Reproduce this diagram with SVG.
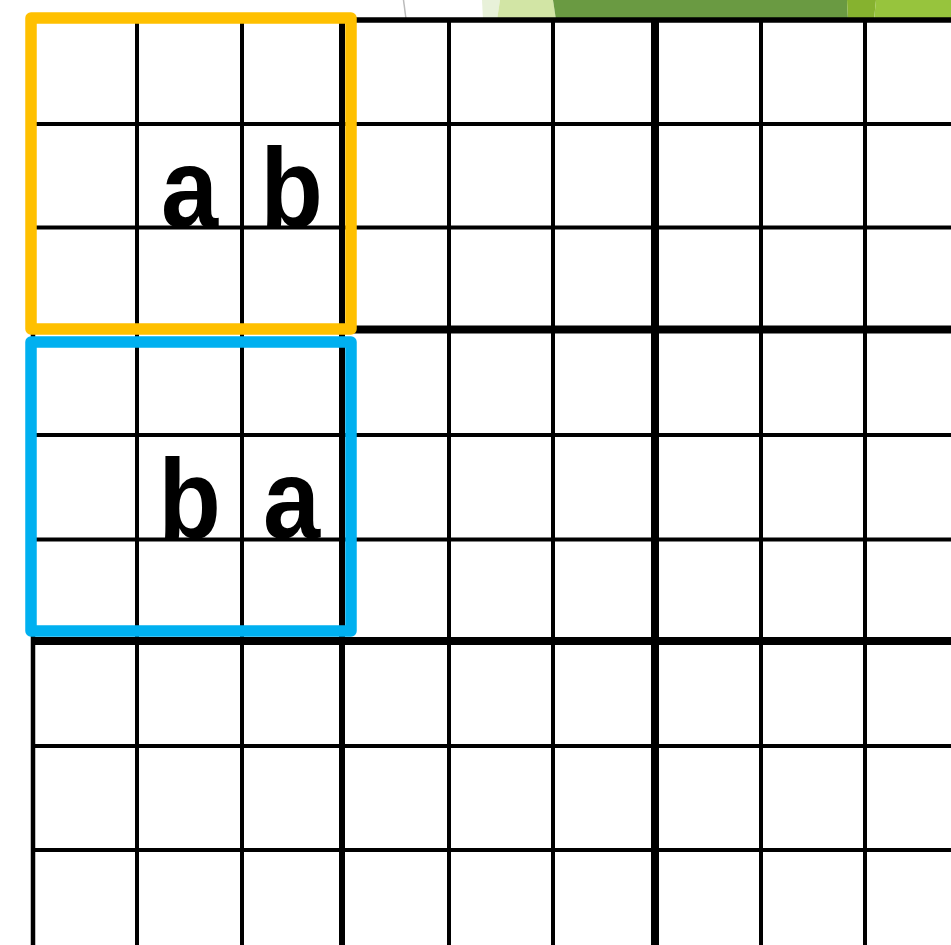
<svg xmlns="http://www.w3.org/2000/svg" width="951" height="945" viewBox="0 0 951 945">
<style>
.thin{stroke:#000;stroke-width:4;fill:none}
.thick{stroke:#000;stroke-width:8;fill:none}
.box{fill:none;stroke-width:11.5;stroke-linejoin:round}
.lbl{font-family:"Liberation Sans",Arial,sans-serif;font-weight:bold;font-size:114px;fill:#000;text-anchor:middle}
</style>
<rect width="951" height="945" fill="#fff"/>
<g id="decor">
<polygon points="482,0 500,0 497,20 483,20" fill="#E8F1D9"/>
<polygon points="500,0 553,0 556,20 497,20" fill="#D2E5A5"/>
<polygon points="553,0 847,0 848,20 556,20" fill="#6A9A42"/>
<polygon points="847,0 876,0 874,20 848,20" fill="#86B22F"/>
<polygon points="876,0 951,0 951,20 874,20" fill="#97C43D"/>
<line x1="403.5" y1="0" x2="406" y2="19" stroke="#BBBBBB" stroke-width="1.5"/>
</g>
<g id="labels">
<text class="lbl" transform="translate(189.5 227) scale(0.9 1)">a</text>
<text class="lbl" transform="translate(291.5 227) scale(0.9 1)">b</text>
<text class="lbl" transform="translate(189.5 538) scale(0.9 1)">b</text>
<text class="lbl" transform="translate(291.5 538) scale(0.9 1)">a</text>
</g>
<g id="grid">
<line class="thin" x1="33" y1="18" x2="33" y2="945" style="stroke-width:4.5"/>
<line class="thin" x1="137" y1="18" x2="137" y2="945"/>
<line class="thin" x1="242" y1="18" x2="242" y2="945"/>
<line class="thick" x1="342" y1="18" x2="342" y2="945" style="stroke-width:6"/>
<line class="thin" x1="449" y1="18" x2="449" y2="945"/>
<line class="thin" x1="553" y1="18" x2="553" y2="945"/>
<line class="thick" x1="655" y1="18" x2="655" y2="945"/>
<line class="thin" x1="761" y1="18" x2="761" y2="945"/>
<line class="thin" x1="865" y1="18" x2="865" y2="945"/>
<line class="thin" x1="31" y1="20" x2="951" y2="20" style="stroke-width:5.4"/>
<line class="thin" x1="31" y1="124" x2="951" y2="124"/>
<line class="thin" x1="31" y1="227.5" x2="951" y2="227.5"/>
<line class="thick" x1="31" y1="329.5" x2="951" y2="329.5"/>
<line class="thin" x1="31" y1="435" x2="951" y2="435"/>
<line class="thin" x1="31" y1="539.5" x2="951" y2="539.5"/>
<line class="thick" x1="31" y1="641" x2="951" y2="641"/>
<line class="thin" x1="31" y1="746" x2="951" y2="746"/>
<line class="thin" x1="31" y1="850" x2="951" y2="850"/>
</g>
<g id="box-ab">
<rect class="box" x="31" y="18" width="320" height="311" stroke="#FFC000"/>
</g>
<g id="box-ba">
<rect class="box" x="31" y="342" width="320" height="289" stroke="#00B0F0"/>
</g>
</svg>
